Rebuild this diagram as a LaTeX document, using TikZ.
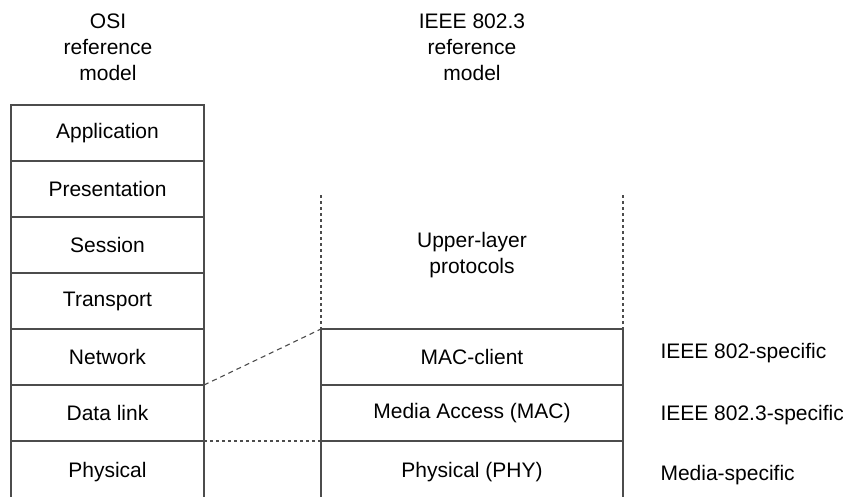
\documentclass[tikz,border=0pt]{standalone}
\usepackage{fontspec}
\setmainfont{Liberation Sans}
\usetikzlibrary{positioning}
\tikzset{
layerbox/.style={
  draw=black!70,
  line width=1.4pt,
  outer sep=0pt,
  inner sep=0pt,
  minimum width=193pt,
  minimum height=56pt,
  font=\fontsize{21}{25}\selectfont
},
ieeebox/.style={
  layerbox,
  minimum width=302pt
},
headtext/.style={
  align=center,
  font=\fontsize{21}{26}\selectfont
},
sidetext/.style={
  anchor=west,
  font=\fontsize{21}{25}\selectfont
},
guideline/.style={
  draw=black!70,
  line width=1.1pt,
  dash pattern=on 3pt off 3pt
}
}

\begin{document}
\begin{tikzpicture}[x=1pt,y=-1pt]

\path[use as bounding box, clip] (0,0) rectangle (843,496);

% column headings
\node[headtext] (osihead) at (108,47) {OSI\\reference\\model};
\node[headtext] (ieeehead) at (472,47) {IEEE 802.3\\reference\\model};

% OSI stack
\node[layerbox] (app) at (107.5,133) {Application};
\node[layerbox, below=0pt of app] (pres) {Presentation};
\node[layerbox, below=0pt of pres] (sess) {Session};
\node[layerbox, below=0pt of sess] (trans) {Transport};
\node[layerbox, below=0pt of trans] (net) {Network};
\node[layerbox, below=0pt of net] (dlink) {Data link};
\node[layerbox, below=0pt of dlink, minimum height=62pt] (phys) {Physical};

% IEEE 802.3 stack
\node[ieeebox] (macc) at (472,357) {MAC-client};
\node[ieeebox, below=0pt of macc] (mac) {Media Access (MAC)};
\node[ieeebox, below=0pt of mac, minimum height=62pt] (phy) {Physical (PHY)};

\node[headtext] (upper) at (472,255) {Upper-layer\\protocols};
\coordinate (uptopl) at (macc.north west |- 0,195);
\coordinate (uptopr) at (macc.north east |- 0,195);
\draw[guideline] (uptopl) -- (macc.north west);
\draw[guideline] (uptopr) -- (macc.north east);

% mapping between the two models
\draw[guideline, dash pattern=on 5pt off 4pt] (net.south east) -- (macc.north west);
\draw[guideline] (dlink.south east) -- (mac.south west);

% scope labels
\node[sidetext] (spec802) at (657,353) {IEEE 802-specific};
\node[sidetext] (spec8023) at (657,415) {IEEE 802.3-specific};
\node[sidetext] (specmedia) at (657,475) {Media-specific};

\end{tikzpicture}
\end{document}
